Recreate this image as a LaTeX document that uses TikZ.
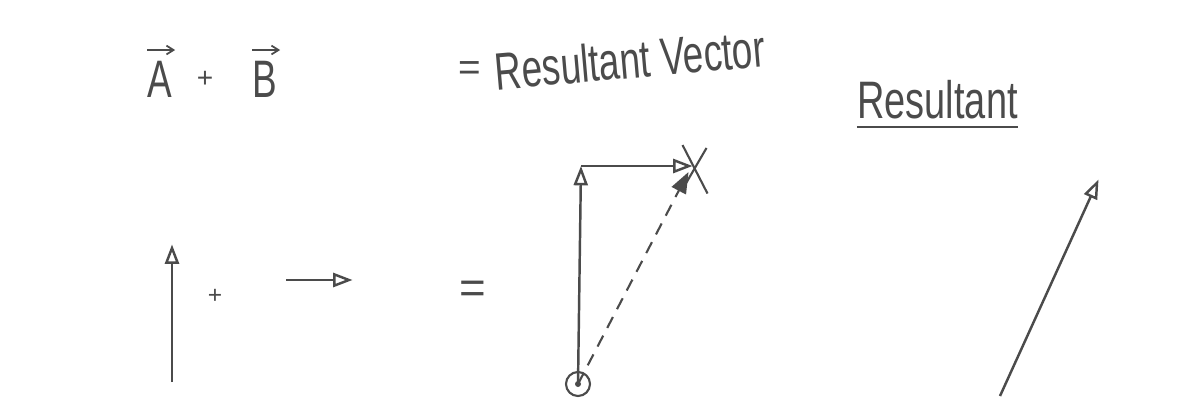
\documentclass[tikz,border=0pt]{standalone}
\usepackage{fontspec}
\setmainfont{Liberation Sans}
\usepackage{graphicx}
\usetikzlibrary{arrows.meta,positioning,calc}
\definecolor{pencil}{RGB}{75,75,75}

\begin{document}
\begin{tikzpicture}[
        txt/.style={text=pencil, inner sep=0pt, font=\fontsize{30}{34}\selectfont},
        vec/.style={-{Triangle[open,length=11pt,width=8pt]}, draw=pencil, line width=1.4pt},
        dashvec/.style={dashed, dash pattern=on 7pt off 5pt, draw=pencil, line width=1.2pt,
                     -{Triangle[length=12pt,width=9pt]}},
        pen/.style={draw=pencil, line width=1.2pt},
        over/.style={-{Straight Barb[length=4pt,width=5pt]}, draw=pencil, line width=1pt}
      ]
        \useasboundingbox (0,0) rectangle (23.7,8.04);
        % Heading: A + B = Resultant Vector
        \node[txt] (hA) at (3.2,6.45) {\scalebox{0.7}[1]{A}};
        \draw[over] ($(hA.north west)+(0,0.22)$) -- ($(hA.north east)+(0.05,0.22)$);
        \node[txt, font=\fontsize{16}{18}\selectfont] (hplus) at (4.1,6.45) {+};
        \node[txt] (hB) at (5.3,6.45) {\scalebox{0.7}[1]{B}};
        \draw[over] ($(hB.north west)+(0,0.22)$) -- ($(hB.north east)+(0.05,0.22)$);
        \node[txt, font=\fontsize{22}{26}\selectfont] (heq) at (9.4,6.62) {=};
        \node[txt, rotate=5] (hres) at (12.6,6.85) {\scalebox{0.7}[1]{Resultant Vector}};
        % Label over the last vector
        \node[txt] (lres) at (18.75,6.05) {\scalebox{0.72}[1]{Resultant}};
        \draw[pen] ($(lres.south west)+(0,-0.16)$) -- ($(lres.south east)+(0,-0.16)$);
        % Vector A and vector B
        \coordinate (a0) at (3.44,0.40);
        \coordinate (a1) at (3.44,3.15);
        \draw[vec] (a0) -- (a1);
        \node[txt, font=\fontsize{14}{16}\selectfont] (plus) at (4.3,2.12) {+};
        \coordinate (b0) at (5.72,2.44);
        \coordinate (b1) at (7.05,2.44);
        \draw[vec] (b0) -- (b1);
        \node[txt, font=\fontsize{26}{30}\selectfont] (eq) at (9.45,2.2) {=};
        % Tip to tail
        \coordinate (o) at (11.56,0.36);
        \coordinate (p) at (11.62,4.72);
        \coordinate (q) at (13.85,4.72);
        \draw[vec] (o) -- (p);
        \draw[vec] (p) -- (q);
        \draw[dashvec] (o) -- ($(q)+(-0.08,-0.12)$);
        \draw[pen] (o) circle (0.24);
        \fill[pencil] (o) circle (0.06);
        \draw[pen] ($(q)+(-0.2,0.42)$) -- ($(q)+(0.3,-0.55)$);
        \draw[pen] ($(q)+(0.28,0.36)$) -- ($(q)+(-0.22,-0.5)$);
        % Resultant
        \coordinate (r0) at (20.0,0.12);
        \coordinate (r1) at (21.97,4.45);
        \draw[vec] (r0) -- (r1);
      \end{tikzpicture}
\end{document}
